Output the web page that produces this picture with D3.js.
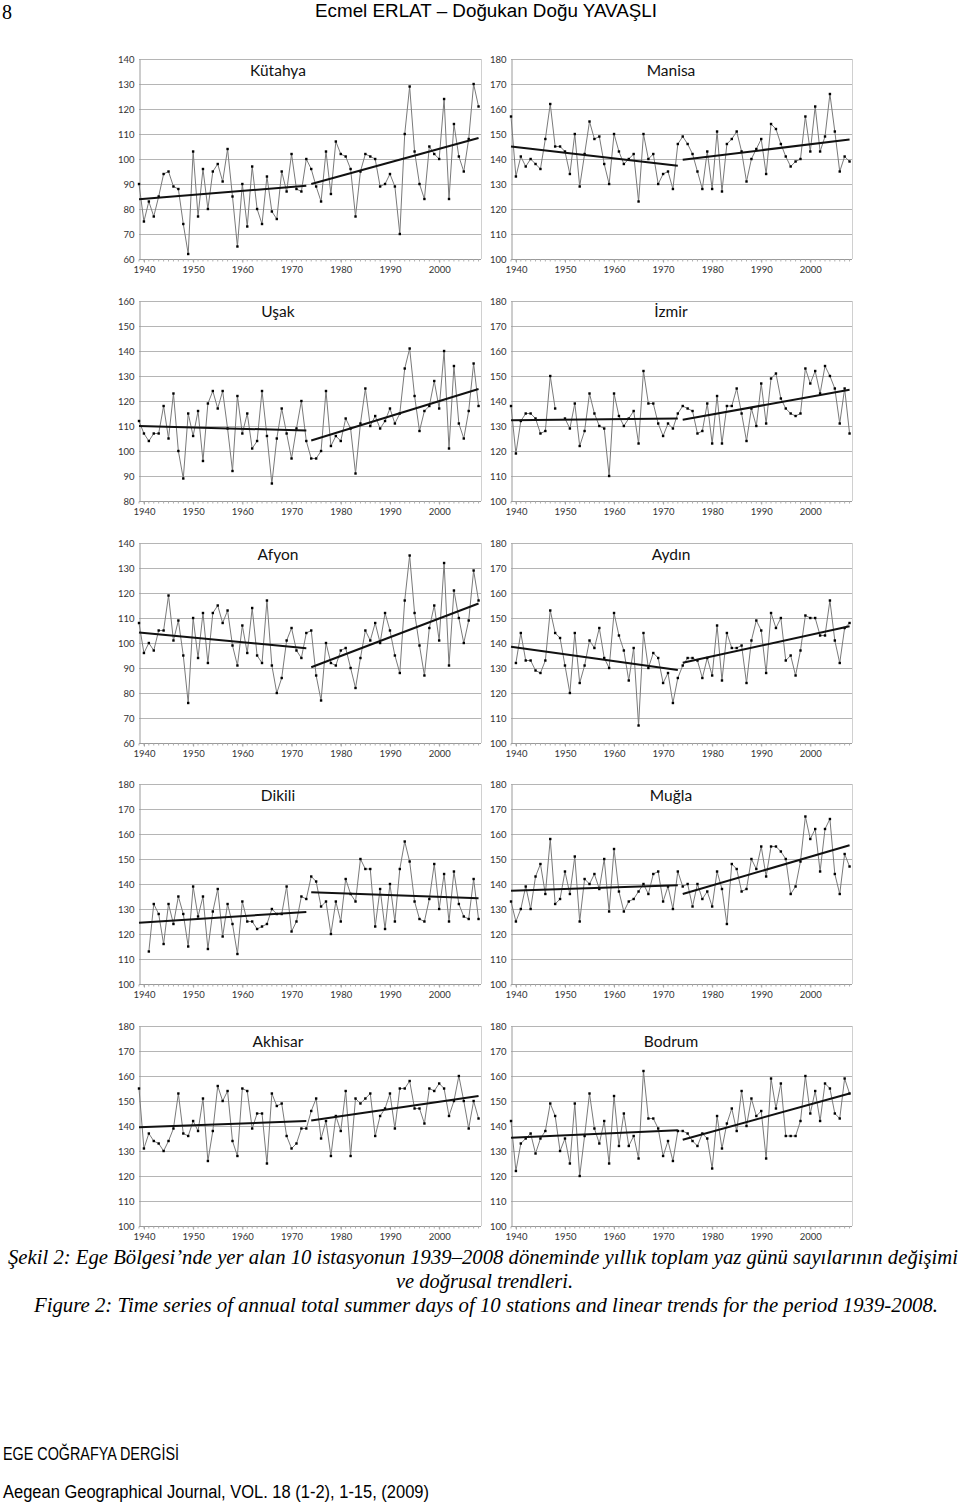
<!DOCTYPE html>
<html>
<head>
<meta charset="utf-8">
<script src="https://cdn.jsdelivr.net/npm/d3@7"></script>
<style>
  html, body { margin: 0; padding: 0; background: #fff; }
  svg { display: block; }
</style>
</head>
<body>
<svg id="chart" width="960" height="1503"></svg>
<script>
// ---------------- DATA ----------------
const firstYear = 1939, lastYear = 2008;
const years = d3.range(firstYear, lastYear + 1);
const xTickYears = [1940, 1950, 1960, 1970, 1980, 1990, 2000];

const stationNames = ["Kütahya", "Manisa", "Uşak", "İzmir", "Afyon", "Aydın", "Dikili", "Muğla", "Akhisar", "Bodrum"];

const ticks60 = [60, 70, 80, 90, 100, 110, 120, 130, 140];
const ticks80 = [80, 90, 100, 110, 120, 130, 140, 150, 160];
const ticks100 = [100, 110, 120, 130, 140, 150, 160, 170, 180];

const kutahya = [90,75,83,77,85,94,95,89,88,74,62,103,77,96,80,95,98,91,104,85,65,90,73,97,80,74,93,79,76,95,87,102,88,87,100,
  96,89,83,103,86,107,102,101,96,77,95,102,101,100,89,90,94,89,70,110,129,103,90,84,105,102,100,124,84,114,101,95,108,130,121];
const manisa = [157,133,141,137,140,138,136,148,162,145,145,143,134,150,129,142,155,148,149,138,130,150,143,138,140,142,123,150,140,142,130,134,135,128,146,
  149,146,142,135,128,143,128,151,127,146,148,151,143,131,140,144,148,134,154,152,146,141,137,139,140,157,143,161,143,149,166,151,135,141,139];
const usak = [112,107,104,107,107,118,105,123,100,89,115,106,116,96,119,124,117,124,109,92,122,107,115,101,104,124,106,87,105,117,107,97,109,120,104,
  97,97,100,124,102,106,104,113,109,91,111,125,110,114,109,112,117,111,115,133,141,122,108,116,118,128,117,140,101,134,111,105,116,135,118];
const izmir = [138,119,132,135,135,133,127,128,150,137,null,133,129,139,122,128,143,135,130,129,110,143,134,130,133,136,123,152,139,139,131,126,131,129,135,
  138,137,136,127,128,139,123,142,123,138,138,145,135,124,137,130,147,131,149,151,141,137,135,134,135,153,147,152,143,154,150,145,131,145,127];
const afyon = [108,96,100,97,105,105,119,101,109,95,76,110,94,112,92,112,115,108,113,99,91,107,96,114,95,92,117,91,80,86,101,106,97,94,104,
  105,87,77,100,92,91,97,98,90,82,94,105,101,108,100,112,105,95,88,117,135,112,99,87,106,115,101,132,91,121,110,100,109,129,117];
const aydin = [null,132,144,133,133,129,128,133,153,144,142,131,120,144,124,131,141,138,146,134,130,152,143,137,125,138,107,144,130,136,134,124,128,116,126,
  131,134,134,133,126,134,127,147,125,144,138,138,139,124,141,149,145,128,152,146,150,133,135,127,137,151,150,150,143,143,157,141,132,146,148];
const dikili = [null,null,113,132,128,116,132,124,135,128,115,139,127,135,114,129,138,119,132,124,112,133,125,125,122,123,124,130,128,128,139,121,125,135,134,
  143,141,131,133,120,133,125,142,136,133,150,146,146,123,138,122,140,125,146,157,149,133,126,125,134,148,130,144,125,145,132,127,126,142,126];
const mugla = [133,125,130,139,130,143,148,136,158,132,134,145,136,151,125,142,140,144,138,150,129,154,137,129,133,134,137,140,136,144,145,133,139,130,145,
  139,140,131,140,134,137,131,145,138,124,148,146,137,138,150,146,155,143,155,155,153,150,136,139,149,167,158,162,145,162,166,144,136,152,147];
const akhisar = [155,131,137,134,133,130,134,139,153,137,136,142,138,151,126,138,156,150,154,134,128,155,154,139,145,145,125,153,148,149,136,131,133,139,139,
  146,151,135,142,128,144,138,154,128,151,149,151,153,136,144,147,153,139,155,155,158,147,147,141,155,154,157,155,144,150,160,150,139,150,143];
const bodrum = [142,122,133,135,137,129,135,138,149,144,130,135,125,149,120,136,153,139,133,142,125,152,132,145,132,136,127,162,143,143,139,128,134,126,138,
  138,137,134,132,137,135,123,144,131,141,147,138,154,140,151,144,146,127,159,147,157,136,136,136,142,160,145,154,142,157,155,145,143,159,153];

// trend lines: [value at 1939, value at 1973, value at 1974, value at 2008]
const trendYears = [1939, 1973, 1974, 2008];
const kutahyaTrend = [83.9, 89.3, 90.0, 108.4];
const manisaTrend = [145.0, 137.3, 139.7, 147.8];
const usakTrend = [110.0, 108.2, 104.2, 124.8];
const izmirTrend = [132.3, 133.0, 132.5, 144.5];
const afyonTrend = [104.2, 97.9, 90.3, 115.8];
const aydinTrend = [138.5, 129.2, 132.1, 146.7];
const dikiliTrend = [124.5, 128.8, 136.7, 134.3];
const muglaTrend = [137.3, 139.5, 136.0, 155.5];
const akhisarTrend = [139.5, 142.0, 142.2, 152.0];
const bodrumTrend = [135.3, 138.3, 134.5, 153.0];

const seriesList = [kutahya, manisa, usak, izmir, afyon, aydin, dikili, mugla, akhisar, bodrum];
const trendList = [kutahyaTrend, manisaTrend, usakTrend, izmirTrend, afyonTrend, aydinTrend, dikiliTrend, muglaTrend, akhisarTrend, bodrumTrend];
const tickList = [ticks60, ticks100, ticks80, ticks100, ticks60, ticks100, ticks100, ticks100, ticks100, ticks100];

// ---------------- LAYOUT ----------------
const svg = d3.select("#chart");
const cols = [{x0: 139, x1: 481, titleX: 278}, {x0: 511, x1: 852, titleX: 671}];
const rowTops = [59, 301, 543, 784, 1026];
const plotH = 200;
const titleOffsets = [17, 16, 17, 17, 21];
const tickFont = "Lato, 'Open Sans', sans-serif";

stationNames.forEach((name, i) => {
  const col = cols[i % 2];
  const top = rowTops[Math.floor(i / 2)];
  const bottom = top + plotH;
  const ticks = tickList[i];
  const data = seriesList[i];
  const trend = trendList[i];

  const x = d3.scaleLinear().domain([firstYear, lastYear + 0.5]).range([col.x0, col.x1]);
  const y = d3.scaleLinear().domain([ticks[0], ticks[ticks.length - 1]]).range([bottom, top]);

  const g = svg.append("g");

  // gridlines
  g.selectAll("line.grid").data(ticks).join("line")
    .attr("x1", col.x0).attr("x2", col.x1)
    .attr("y1", d => Math.round(y(d)) + 0.5).attr("y2", d => Math.round(y(d)) + 0.5)
    .attr("stroke", "#b5b5b5").attr("stroke-width", 1);

  // right frame
  g.append("line").attr("x1", col.x1 + 0.5).attr("x2", col.x1 + 0.5)
    .attr("y1", top).attr("y2", bottom).attr("stroke", "#d0d0d0");

  // y axis
  const yAxis = d3.axisLeft(y).tickValues(ticks).tickSize(0).tickPadding(5);
  const ya = g.append("g").attr("transform", `translate(${col.x0 + 0.5},0)`).call(yAxis);
  ya.select(".domain").attr("stroke", "#9a9a9a");
  ya.selectAll("text").attr("font-family", tickFont).attr("font-size", 9.5).attr("fill", "#333");

  // x axis
  const xAxis = d3.axisBottom(x).tickValues(xTickYears).tickFormat(d3.format("d")).tickSize(3).tickPadding(4);
  const xa = g.append("g").attr("transform", `translate(0,${Math.round(bottom) + 0.5})`).call(xAxis);
  xa.select(".domain").attr("stroke", "#9a9a9a").attr("d", `M${col.x0},0H${col.x1}`);
  xa.selectAll(".tick line").attr("stroke", "#9a9a9a");
  xa.selectAll("text").attr("font-family", tickFont).attr("font-size", 9.5).attr("fill", "#333");
  // minor ticks
  xa.selectAll("line.minor").data(years).join("line").attr("class", "minor")
    .attr("x1", d => x(d)).attr("x2", d => x(d)).attr("y1", 0).attr("y2", 2)
    .attr("stroke", "#b0b0b0");

  // series line
  const line = d3.line().defined(d => d.v != null).x(d => x(d.year)).y(d => y(d.v));
  const pts = years.map((yr, k) => ({year: yr, v: data[k]}));
  g.append("path").datum(pts).attr("d", line)
    .attr("fill", "none").attr("stroke", "#7a7a7a").attr("stroke-width", 1);

  // markers
  g.selectAll("rect.pt").data(pts.filter(d => d.v != null)).join("rect")
    .attr("x", d => x(d.year) - 1.2).attr("y", d => y(d.v) - 1.2)
    .attr("width", 2.4).attr("height", 2.4).attr("fill", "#000");

  // trend lines
  const tline = d3.line().x(d => x(d[0])).y(d => y(d[1]));
  [[0, 1], [2, 3]].forEach(([a, b]) => {
    g.append("path").datum([[trendYears[a], trend[a]], [trendYears[b], trend[b]]])
      .attr("d", tline).attr("fill", "none").attr("stroke", "#111").attr("stroke-width", 2);
  });

  // title
  g.append("text").attr("x", col.titleX).attr("y", top + titleOffsets[Math.floor(i / 2)])
    .attr("text-anchor", "middle").attr("font-family", "Lato, 'Open Sans', sans-serif")
    .attr("font-size", 15.5).attr("fill", "#111").text(name);
});

// ---------------- PAGE TEXT ----------------
svg.append("text").attr("x", 2).attr("y", 19).attr("font-family", "'Liberation Serif', serif")
  .attr("font-size", 20).attr("fill", "#000").text("8");
svg.append("text").attr("x", 315).attr("y", 17).attr("font-family", "'Liberation Sans Narrow', 'Liberation Sans', sans-serif")
  .attr("font-size", 18).attr("textLength", 342).attr("lengthAdjust", "spacingAndGlyphs")
  .attr("fill", "#000").text("Ecmel ERLAT – Doğukan Doğu YAVAŞLI");

const capFont = "'Liberation Serif', serif";
const cap = [
  {t: "Şekil 2: Ege Bölgesi’nde yer alan 10 istasyonun 1939–2008 döneminde yıllık toplam yaz günü sayılarının değişimi", x: 8, y: 1264, w: 950},
  {t: "ve doğrusal trendleri.", x: 396, y: 1288, w: 177},
  {t: "Figure 2: Time series of annual total summer days of 10 stations and linear trends for the period 1939-2008.", x: 34, y: 1312, w: 904}
];
cap.forEach(c => {
  svg.append("text").attr("x", c.x).attr("y", c.y).attr("font-family", capFont)
    .attr("font-style", "italic").attr("font-size", 20).attr("textLength", c.w)
    .attr("lengthAdjust", "spacingAndGlyphs").attr("fill", "#000").text(c.t);
});

svg.append("text").attr("x", 3).attr("y", 1460).attr("font-family", "'Liberation Sans Narrow', 'Liberation Sans', sans-serif")
  .attr("font-size", 18).attr("textLength", 176).attr("lengthAdjust", "spacingAndGlyphs")
  .attr("fill", "#000").text("EGE COĞRAFYA DERGİSİ");
svg.append("text").attr("x", 3).attr("y", 1498).attr("font-family", "'Liberation Sans Narrow', 'Liberation Sans', sans-serif")
  .attr("font-size", 18).attr("textLength", 426).attr("lengthAdjust", "spacingAndGlyphs")
  .attr("fill", "#000").text("Aegean Geographical Journal, VOL. 18 (1-2), 1-15, (2009)");
</script>
</body>
</html>
